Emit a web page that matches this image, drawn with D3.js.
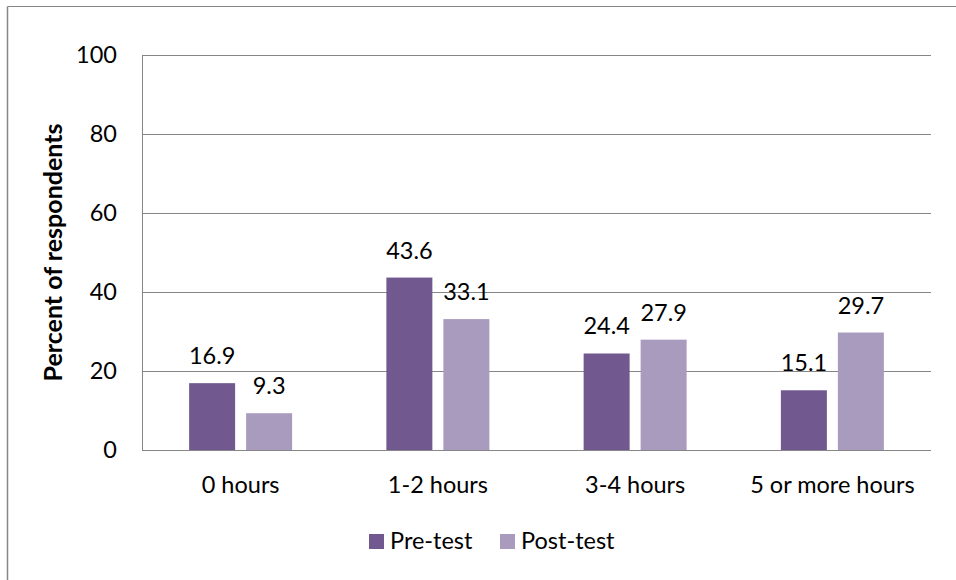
<!DOCTYPE html>
<html><head><meta charset="utf-8">
<script src="https://cdn.jsdelivr.net/npm/d3@7"></script>
<style>body{margin:0;background:#fff;}svg{display:block;font-family:Lato,"Open Sans",sans-serif;}</style>
</head><body>
<svg id="c" width="956" height="580"></svg>
<script>
const categories = ["0 hours","1-2 hours","3-4 hours","5 or more hours"];
const seriesNames = ["Pre-test","Post-test"];
const preTest = [16.9, 43.6, 24.4, 15.1];
const postTest = [9.3, 33.1, 27.9, 29.7];
const yTicks = [0,20,40,60,80,100];
const colors = ["#71588F","#A99BBE"];

const svg = d3.select("#c");
const L=142, R=931, T=54.5, B=450;
const x = d3.scaleBand().domain(categories).range([L,R]);
const y = d3.scaleLinear().domain([0,100]).range([B,T]);
const series = [preTest, postTest];
const FS = 23.5;

// outer border (cropped)
svg.append("line").attr("x1",7.5).attr("x2",956).attr("y1",6.5).attr("y2",6.5).attr("stroke","#868686").attr("stroke-width",1);
svg.append("line").attr("x1",7.5).attr("x2",7.5).attr("y1",6.5).attr("y2",580).attr("stroke","#868686").attr("stroke-width",1.5);

// gridlines
svg.append("g").selectAll("line").data(yTicks).join("line")
  .attr("x1",L).attr("x2",R).attr("y1",d=>Math.round(y(d))+0.5).attr("y2",d=>Math.round(y(d))+0.5)
  .attr("stroke","#868686").attr("stroke-width",1);
svg.append("line").attr("x1",L+0.5).attr("x2",L+0.5).attr("y1",Math.round(T)+0.5).attr("y2",B+0.5).attr("stroke","#868686");

// y tick labels
svg.append("g").selectAll("text").data(yTicks).join("text")
  .attr("x",117).attr("y",d=>y(d)).attr("dy","0.36em").attr("text-anchor","end")
  .attr("font-size",FS).attr("fill","#000").text(d=>d);

// y title
svg.append("text").attr("transform",`translate(52.5,252.5) rotate(-90)`)
  .attr("text-anchor","middle").attr("dy","0.36em").attr("font-size",25).attr("font-weight","bold").text("Percent of respondents");

// bars
const bw = 46, gap = 11;
const bx = (i,si)=>x(categories[i])+x.bandwidth()/2 - (bw+gap/2) + si*(bw+gap);
series.forEach((s,si)=>{
  const g = svg.append("g");
  g.selectAll("rect").data(s).join("rect")
    .attr("x",(d,i)=>bx(i,si))
    .attr("y",d=>y(d)).attr("width",bw).attr("height",d=>B-y(d))
    .attr("fill",colors[si]);
  g.selectAll("text").data(s).join("text")
    .attr("x",(d,i)=>bx(i,si) + bw/2)
    .attr("y",d=>y(d)-19).attr("text-anchor","middle").attr("font-size",FS).text(d=>d.toFixed(1));
});

// x labels
svg.append("g").selectAll("text").data(categories).join("text")
  .attr("x",d=>x(d)+x.bandwidth()/2).attr("y",493).attr("text-anchor","middle")
  .attr("font-size",FS).text(d=>d);

// legend
const legX = [369, 500];
seriesNames.forEach((n,i)=>{
  svg.append("rect").attr("x",legX[i]).attr("y",534).attr("width",15).attr("height",15).attr("fill",colors[i]);
  svg.append("text").attr("x",legX[i]+21).attr("y",549).attr("font-size",FS).text(n);
});
</script>
</body></html>
